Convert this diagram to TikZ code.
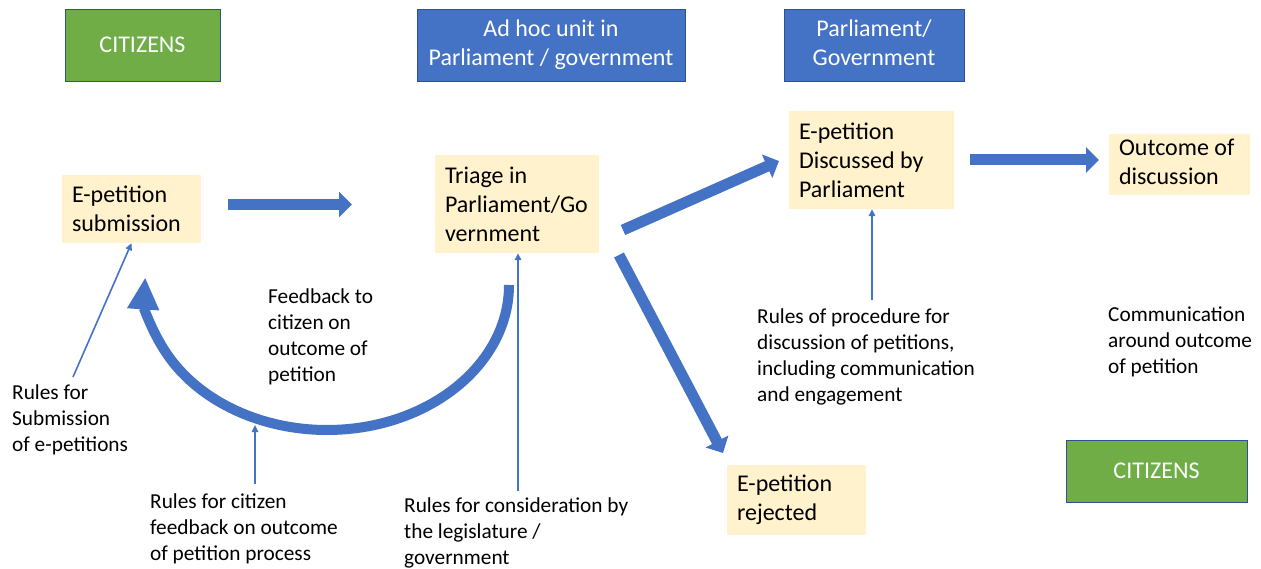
\documentclass[tikz,border=0pt]{standalone}
\usepackage{fontspec}
\setmainfont{Carlito}
\usetikzlibrary{arrows.meta}
\definecolor{ofblue}{HTML}{4472C4}
\definecolor{ofgreen}{HTML}{70AD47}
\definecolor{ofyellow}{HTML}{FFF2CC}
\definecolor{ofedge}{HTML}{2F528F}
\begin{document}
\begin{tikzpicture}[x=1pt,y=-1pt,
  header/.style={draw=ofedge, line width=0.8pt, text=white, align=center,
    font=\fontsize{24}{29}\selectfont, inner sep=0pt},
  bluehead/.style={header, fill=ofblue},
  greenhead/.style={header, fill=ofgreen},
  stepbox/.style={fill=ofyellow, align=flush left, font=\fontsize{24}{29}\selectfont,
    inner xsep=10pt, inner ysep=0pt},
  note/.style={align=flush left, anchor=west, inner sep=0pt,
    font=\fontsize{21.3}{26}\selectfont},
  blockarrow/.style={draw=ofblue, line width=11pt,
    -{Triangle[length=13pt,width=25pt]}},
  bigcurve/.style={draw=ofblue, line width=10pt,
    -{Triangle[length=32pt,width=30pt]}},
  thinarrow/.style={draw=ofblue, line width=1.6pt,
    -{Triangle[length=7pt,width=6.5pt]}}
]
\useasboundingbox (0,0) rectangle (1261,569);

% header boxes
\node[greenhead, minimum width=155pt, minimum height=72pt] (cit1) at (142.5,45) {CITIZENS};
\node[bluehead, minimum width=268pt, minimum height=72pt] (adhoc) at (551,45) {\strut Ad hoc unit in\\\strut Parliament / government};
\node[bluehead, minimum width=180pt, minimum height=72pt] (parl) at (874,45) {\strut Parliament/\\\strut Government};
\node[greenhead, minimum width=181pt, minimum height=62pt] (cit2) at (1156.5,471) {CITIZENS};

% process boxes
\node[stepbox, text width=119pt, minimum height=68pt] (sub) at (131.5,209) {E-petition\\submission};
\node[stepbox, text width=144pt, minimum height=98pt] (triage) at (517,204) {Triage in\\Parliament/Go\\vernment};
\node[stepbox, text width=145pt, minimum height=98pt] (disc) at (871.5,160) {E-petition\\Discussed by\\Parliament};
\node[stepbox, text width=121pt, minimum height=61pt] (outc) at (1179.5,164.5) {\strut Outcome of\\\strut discussion};
\node[stepbox, text width=119pt, minimum height=70pt] (rej) at (796.5,500) {E-petition\\rejected};

% notes
\node[note] (fb) at (268,337) {Feedback to\\citizen on\\outcome of\\petition};
\node[note] (rsub) at (12,420) {Rules for\\Submission\\of e-petitions};
\node[note] (rfb) at (150,529) {Rules for citizen\\feedback on outcome\\of petition process};
\node[note] (rcons) at (404,533) {Rules for consideration by\\the legislature /\\government};
\node[note] (rproc) at (757,357) {Rules of procedure for\\discussion of petitions,\\including communication\\and engagement};
\node[note] (comm) at (1108,342) {Communication\\around outcome\\of petition};

% block arrows
\coordinate (a1s) at (228,204.5);
\coordinate (a1e) at (352,204.5);
\coordinate (a2s) at (623,230);
\coordinate (a2e) at (779,161);
\coordinate (a3s) at (970,160);
\coordinate (a3e) at (1099,160);
\coordinate (a4s) at (619,255);
\coordinate (a4e) at (723,453);
\draw[blockarrow] (a1s) -- (a1e);
\draw[blockarrow] (a2s) -- (a2e);
\draw[blockarrow] (a3s) -- (a3e);
\draw[blockarrow] (a4s) -- (a4e);

% curved feedback arrow
\coordinate (cstart) at (509,285);
\draw[bigcurve] (cstart) arc[start angle=0, end angle=-183, x radius=182pt, y radius=145pt];
\coordinate (arcpt) at (255,425);

% thin arrows
\coordinate (t1) at (73,377);
\coordinate (t2) at (255,484);
\coordinate (t3) at (518,491);
\coordinate (t4) at (872,300);
\draw[thinarrow] (t1) -- (sub.south);
\draw[thinarrow] (t2) -- (arcpt);
\draw[thinarrow] (t3) -- (triage.south -| t3);
\draw[thinarrow] (t4) -- (disc.south -| t4);
\end{tikzpicture}
\end{document}
